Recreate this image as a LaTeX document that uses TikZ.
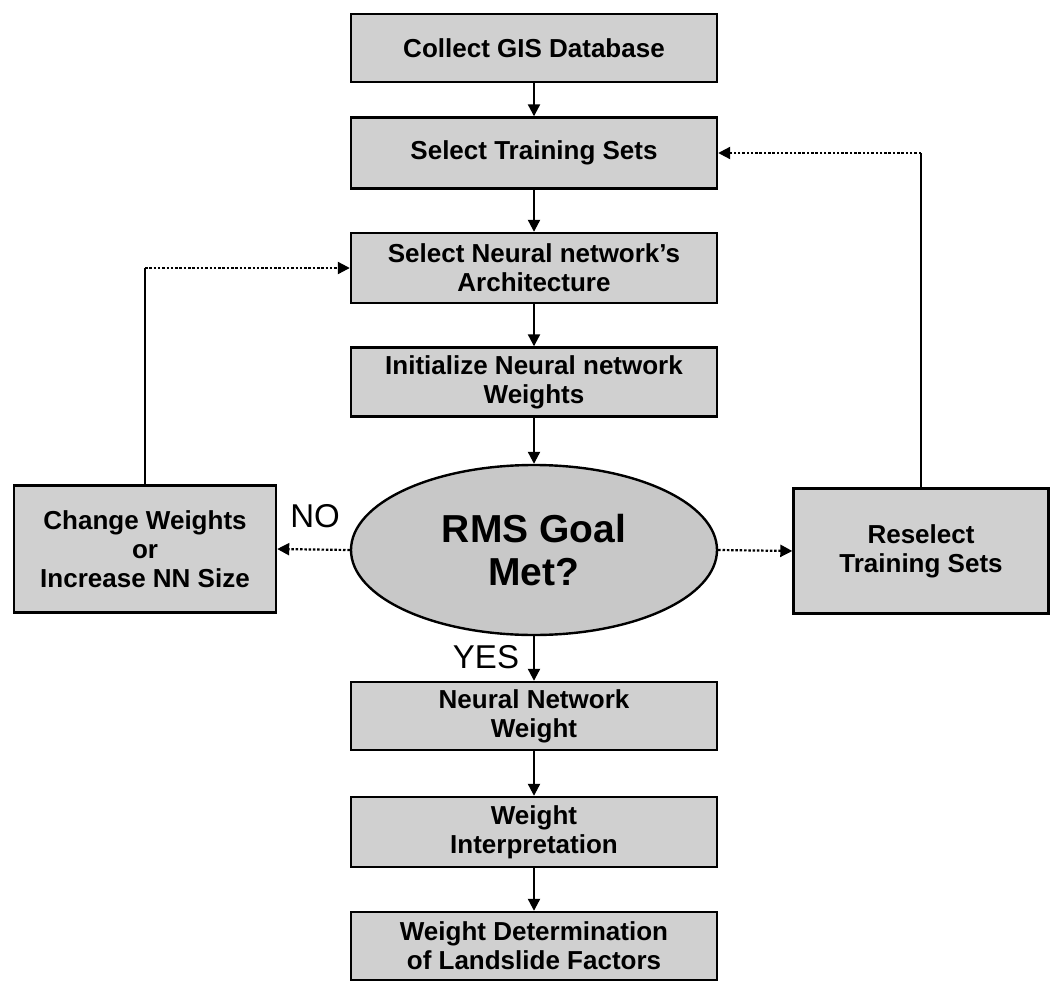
\documentclass[tikz,border=0pt]{standalone}
\usepackage{fontspec}
\setmainfont{Liberation Sans}
\usetikzlibrary{arrows.meta,shapes.geometric}
\definecolor{boxfill}{RGB}{208,208,208}
\definecolor{ellfill}{RGB}{200,200,200}
\begin{document}
\begin{tikzpicture}[x=1pt,y=-1pt,
  box/.style={draw=black, line width=2.4pt, fill=boxfill, rectangle, inner sep=0pt,
    align=center, font=\fontsize{26}{29}\selectfont\bfseries},
  conn/.style={line width=2.2pt, -{Triangle[length=12pt,width=12pt]}},
  fbline/.style={line width=2pt},
  fbarrow/.style={line width=2.2pt, dash pattern=on 2.5pt off 1.8pt, -{Triangle[length=12pt,width=12pt]}},
  lbl/.style={font=\fontsize{33}{38}\selectfont, inner sep=0pt}]
\useasboundingbox (0,0) rectangle (1050,982);

\node[box, minimum width=366pt, minimum height=68pt] (gis) at (534,48) {Collect GIS Database};
\node[box, minimum width=366pt, minimum height=71pt] (train) at (534,153) {Select Training Sets};
\node[box, minimum width=366pt, minimum height=70pt] (arch) at (534,268) {Select Neural network's\\Architecture};
\node[box, minimum width=366pt, minimum height=69pt] (init) at (534,382) {Initialize Neural network\\Weights};
\node[ellipse, draw=black, line width=2.4pt, fill=ellfill, inner sep=0pt,
      minimum width=366pt, minimum height=170pt, align=center,
      font=\fontsize{39}{43}\selectfont\bfseries] (rms) at (534,550) {RMS Goal\\Met?};
\node[box, minimum width=262pt, minimum height=127pt] (chg) at (145,549) {Change Weights\\or\\Increase NN Size};
\node[box, minimum width=255pt, minimum height=125pt] (resel) at (921,551) {Reselect\\Training Sets};
\node[box, minimum width=366pt, minimum height=68pt] (nnw) at (534,716) {Neural Network\\Weight};
\node[box, minimum width=366pt, minimum height=70pt] (interp) at (534,832) {Weight\\Interpretation};
\node[box, minimum width=366pt, minimum height=68pt] (det) at (534,946) {Weight Determination\\of Landslide Factors};

\node[lbl] (no) at (315,516) {NO};
\node[lbl] (yes) at (486,657) {YES};

\draw[conn] (gis) -- (train);
\draw[conn] (train) -- (arch);
\draw[conn] (arch) -- (init);
\draw[conn] (init) -- (rms);
\draw[conn] (rms) -- (nnw);
\draw[conn] (nnw) -- (interp);
\draw[conn] (interp) -- (det);

\draw[fbarrow] (rms.west) -- (chg.east);
\draw[fbarrow] (rms.east) -- (resel.west);

\draw[fbline] (chg.north) -- (chg.north |- arch.west);
\draw[fbarrow] (chg.north |- arch.west) -- (arch.west);
\draw[fbline] (resel.north) -- (resel.north |- train.east);
\draw[fbarrow] (resel.north |- train.east) -- (train.east);
\end{tikzpicture}
\end{document}
